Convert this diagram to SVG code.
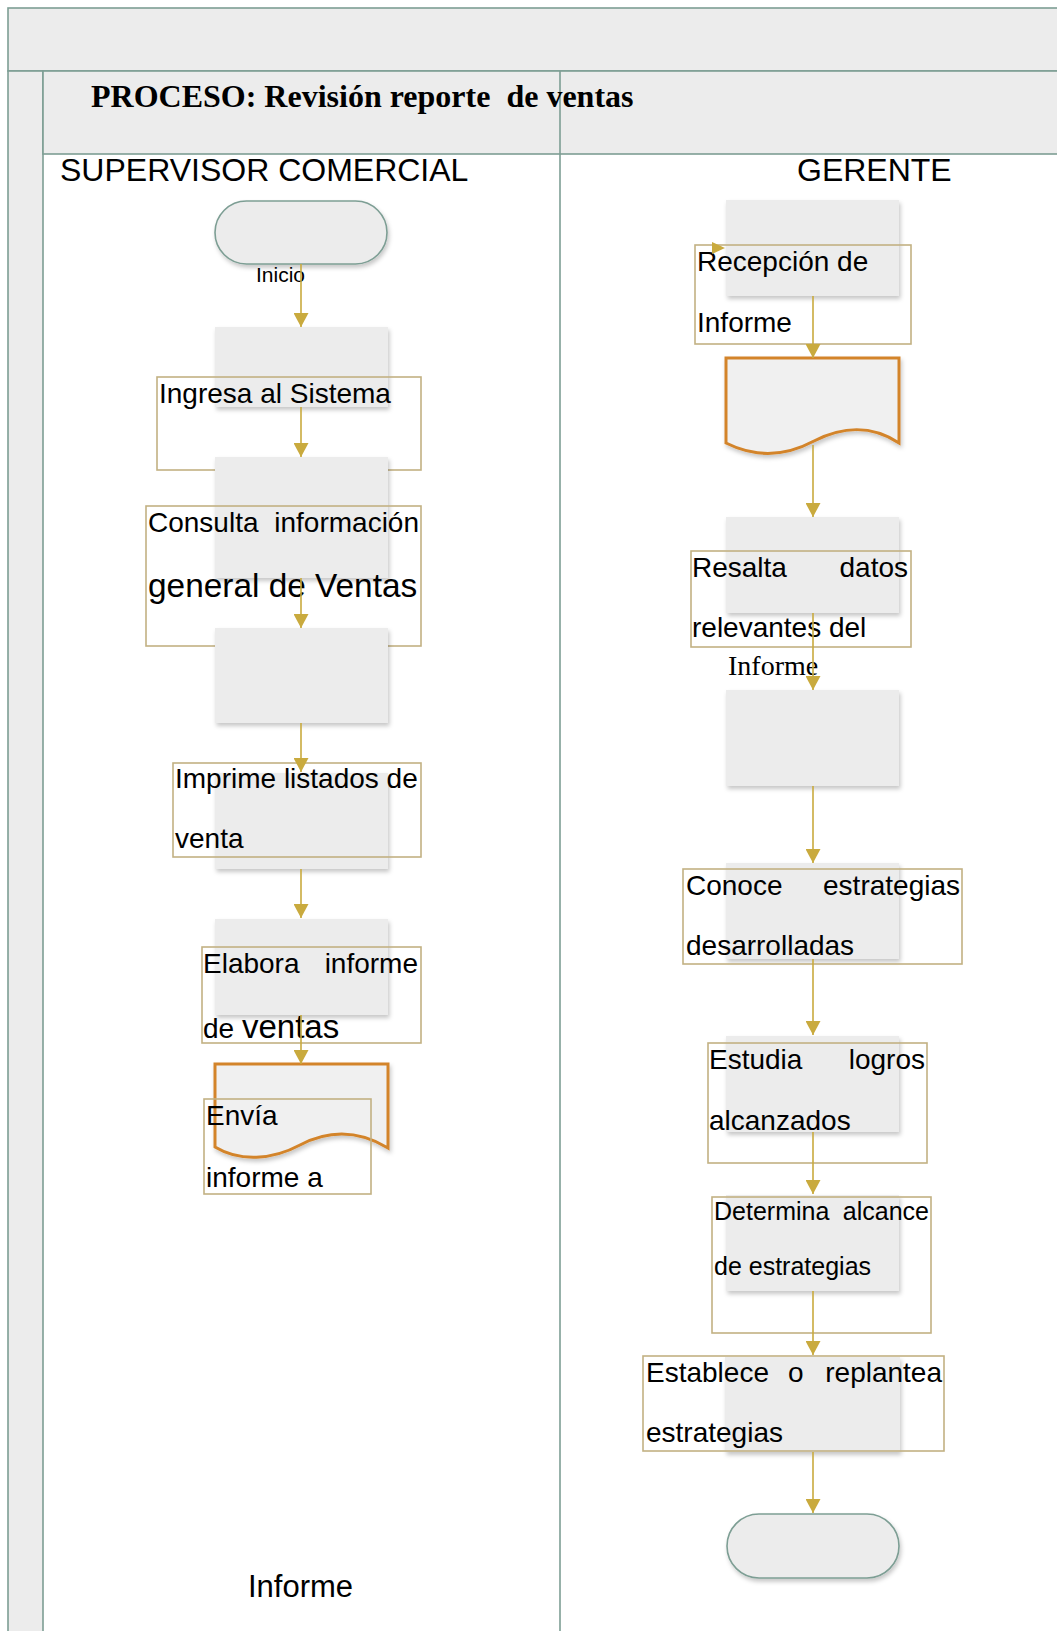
<svg xmlns="http://www.w3.org/2000/svg" width="1057" height="1631" viewBox="0 0 1057 1631">
  <style>
    .band { fill: #ececec; stroke: #7d9e94; stroke-width: 1.6; }
    .lane { stroke: #7d9e94; stroke-width: 1.6; fill: none; }
    .proc { fill: #ececec; filter: url(#shadow); }
    .term { fill: #ececec; stroke: #7d9e94; stroke-width: 1.6; filter: url(#shadow); }
    .doc { fill: #f0f0f0; stroke: #d3842a; stroke-width: 3; filter: url(#shadow); }
    .tbox { fill: none; stroke: #c2b183; stroke-width: 1.6; }
    .conn { stroke: #c9aa3e; stroke-width: 1.6; fill: none; marker-end: url(#arrow); }
    .t { font-family: "Liberation Sans", Arial, sans-serif; font-size: 28px; fill: #000; }
    .title { font-family: "Liberation Serif", "Times New Roman", serif; font-weight: bold; font-size: 32px; fill: #000; }
    .hdr { font-family: "Liberation Sans", Arial, sans-serif; font-size: 32px; fill: #000; }
    .serif { font-family: "Liberation Serif", "Times New Roman", serif; font-size: 28px; fill: #000; }
  </style>
  <defs>
    <marker id="arrow" markerUnits="userSpaceOnUse" markerWidth="15" markerHeight="15" viewBox="0 0 15 15" refX="14" refY="7.5" orient="auto">
      <path d="M0,0 L14,7.5 L0,15 Z" fill="#c9aa3e"/>
    </marker>
    <filter id="shadow" x="-10%" y="-10%" width="125%" height="130%">
      <feDropShadow dx="1.5" dy="3" stdDeviation="2" flood-color="#000" flood-opacity="0.22"/>
    </filter>
  </defs>

  <rect width="1057" height="1631" fill="#fff"/>

  <!-- pool frame and lanes -->
  <g id="pool">
    <rect class="band" x="8" y="8" width="1060" height="63"/>
    <rect class="band" x="8" y="71" width="35" height="1570"/>
    <rect class="band" x="43" y="71" width="1025" height="83"/>
    <line class="lane" x1="560" y1="71" x2="560" y2="1631"/>
    <text class="title" x="91" y="107">PROCESO: Revisión reporte &#160;de ventas</text>
    <text class="hdr" x="60" y="181">SUPERVISOR COMERCIAL</text>
    <text class="hdr" x="797" y="181">GERENTE</text>
  </g>

  <!-- supervisor lane -->
  <g id="inicio">
    <rect class="term" x="215" y="201" width="172" height="63" rx="31.5"/>
    <text class="t" x="256" y="282" style="font-size:21px">Inicio</text>
  </g>
  <g id="ingresa">
    <rect class="proc" x="215" y="327" width="173" height="80"/>
    <rect class="tbox" x="157" y="377" width="264" height="93"/>
    <text class="t" x="159" y="403">Ingresa al Sistema</text>
  </g>
  <g id="consulta">
    <rect class="proc" x="215" y="457" width="173" height="121"/>
    <rect class="tbox" x="146" y="506" width="275" height="140"/>
    <text class="t" x="148" y="532">Consulta</text>
    <text class="t" x="419" y="532" text-anchor="end">información</text>
    <text class="t" x="148" y="597" style="font-size:33.4px">general de Ventas</text>
  </g>
  <g id="paso3">
    <rect class="proc" x="215" y="628" width="173" height="95"/>
  </g>
  <g id="imprime">
    <rect class="proc" x="215" y="773" width="173" height="96"/>
    <rect class="tbox" x="173" y="763" width="248" height="94"/>
    <text class="t" x="175" y="788">Imprime listados de</text>
    <text class="t" x="175" y="848">venta</text>
  </g>
  <g id="elabora">
    <rect class="proc" x="215" y="919" width="173" height="96"/>
    <rect class="tbox" x="202" y="947" width="219" height="96"/>
    <text class="t" x="203" y="973">Elabora</text>
    <text class="t" x="418" y="973" text-anchor="end">informe</text>
    <text class="t" x="203" y="1038">de <tspan style="font-size:33px">ventas</tspan></text>
  </g>
  <g id="envia">
    <path class="doc" d="M215,1064 H388 V1148 C355,1128 325,1132 300,1145 C272,1160 240,1162 215,1147 Z"/>
    <rect class="tbox" x="204" y="1099" width="167" height="95"/>
    <text class="t" x="206" y="1125">Envía</text>
    <text class="t" x="206" y="1187">informe a</text>
  </g>
  <g id="informe-label">
    <text class="t" x="248" y="1597" style="font-size:31px">Informe</text>
  </g>

  <!-- gerente lane -->
  <g id="recepcion">
    <rect class="proc" x="726" y="200" width="173" height="96"/>
    <rect class="tbox" x="695" y="245" width="216" height="99"/>
    <text class="t" x="697" y="271">Recepción de</text>
    <text class="t" x="697" y="332">Informe</text>
  </g>
  <g id="informe-doc">
    <path class="doc" d="M726,358 H899 V443 C870,424 842,427 814,441 C786,456 756,458 726,443 Z"/>
  </g>
  <g id="resalta">
    <rect class="proc" x="726" y="517" width="173" height="96"/>
    <rect class="tbox" x="691" y="551" width="220" height="96"/>
    <text class="t" x="692" y="577">Resalta</text>
    <text class="t" x="908" y="577" text-anchor="end">datos</text>
    <text class="t" x="692" y="637">relevantes del</text>
    <text class="serif" x="728" y="675">Informe</text>
  </g>
  <g id="paso-r3">
    <rect class="proc" x="726" y="690" width="173" height="96"/>
  </g>
  <g id="conoce">
    <rect class="proc" x="726" y="863" width="173" height="96"/>
    <rect class="tbox" x="683" y="869" width="279" height="95"/>
    <text class="t" x="686" y="895">Conoce</text>
    <text class="t" x="960" y="895" text-anchor="end">estrategias</text>
    <text class="t" x="686" y="955">desarrolladas</text>
  </g>
  <g id="estudia">
    <rect class="proc" x="726" y="1036" width="173" height="96"/>
    <rect class="tbox" x="708" y="1043" width="219" height="120"/>
    <text class="t" x="709" y="1069">Estudia</text>
    <text class="t" x="925" y="1069" text-anchor="end">logros</text>
    <text class="t" x="709" y="1130">alcanzados</text>
  </g>
  <g id="determina">
    <rect class="proc" x="726" y="1195" width="173" height="96"/>
    <rect class="tbox" x="712" y="1197" width="219" height="136"/>
    <text class="t" x="714" y="1220" style="font-size:25px">Determina</text>
    <text class="t" x="929" y="1220" text-anchor="end" style="font-size:25px">alcance</text>
    <text class="t" x="714" y="1275" style="font-size:25px">de estrategias</text>
  </g>
  <g id="establece">
    <rect class="proc" x="725" y="1357" width="175" height="95"/>
    <rect class="tbox" x="643" y="1356" width="301" height="95"/>
    <text class="t" x="646" y="1382">Establece</text>
    <text class="t" x="788" y="1382">o</text>
    <text class="t" x="942" y="1382" text-anchor="end">replantea</text>
    <text class="t" x="646" y="1442">estrategias</text>
  </g>
  <g id="fin">
    <rect class="term" x="727" y="1514" width="172" height="64" rx="32"/>
  </g>

  <!-- connectors -->
  <g id="connectors">
    <line class="conn" x1="301" y1="264" x2="301" y2="327"/>
    <line class="conn" x1="301" y1="407" x2="301" y2="457"/>
    <line class="conn" x1="301" y1="578" x2="301" y2="628"/>
    <line class="conn" x1="301" y1="723" x2="301" y2="772"/>
    <line class="conn" x1="301" y1="869" x2="301" y2="918"/>
    <line class="conn" x1="301" y1="1015" x2="301" y2="1064"/>
    <path d="M712,242 L725,248 L712,254 Z" fill="#c9aa3e"/>
    <line class="conn" x1="813" y1="296" x2="813" y2="358"/>
    <line class="conn" x1="813" y1="445" x2="813" y2="517"/>
    <line class="conn" x1="813" y1="613" x2="813" y2="690"/>
    <line class="conn" x1="813" y1="786" x2="813" y2="863"/>
    <line class="conn" x1="813" y1="959" x2="813" y2="1035"/>
    <line class="conn" x1="813" y1="1132" x2="813" y2="1194"/>
    <line class="conn" x1="813" y1="1291" x2="813" y2="1355"/>
    <line class="conn" x1="813" y1="1452" x2="813" y2="1513"/>
  </g>
</svg>
